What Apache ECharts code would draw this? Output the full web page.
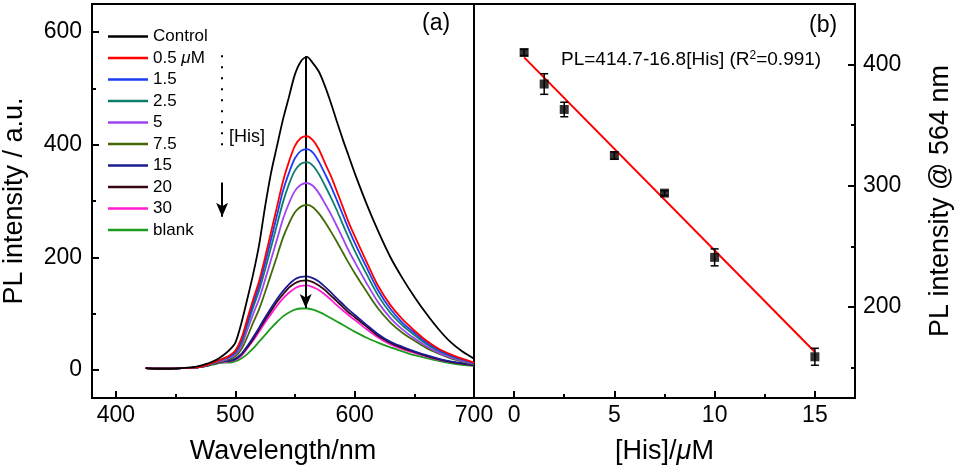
<!DOCTYPE html>
<html>
<head>
<meta charset="utf-8">
<script src="https://cdn.jsdelivr.net/npm/echarts@6/dist/echarts.min.js"></script>
<style>
  html, body { margin: 0; padding: 0; background: #fff; }
  #chart { width: 958px; height: 470px; }
</style>
</head>
<body>
<div id="chart"></div>
<script>
// ---- data ----
var wavelength = [425, 435, 445, 455, 465, 470, 475, 480, 485, 490, 495, 500, 505, 510, 515, 520, 525, 530, 535, 540,
  545, 550, 555, 560, 565, 570, 575, 580, 585, 590, 595, 600, 610, 620, 630, 640, 650, 660, 670, 680, 690, 700];

var legendNames = ['Control', '0.5 μM', '1.5', '2.5', '5', '7.5', '15', '20', '30', 'blank'];
var curveColors = ['#000000', '#ff0000', '#1f3cf5', '#0f7d6c', '#a043f0', '#3f6a05', '#1c1c96', '#360612', '#ff1ed2', '#1c9c1c'];

var plControl = [3, 2, 2, 3, 5, 7, 10, 14, 19, 26, 35, 48, 82, 125, 170, 222, 290, 350, 398, 445,
  485, 525, 548, 556, 545, 530, 505, 475, 442, 410, 380, 350, 295, 245, 200, 163, 130, 100, 73, 50, 33, 20];
var pl05 = [3, 2, 2, 3, 4, 5, 8, 12, 16, 20, 25, 34, 55, 90, 125, 158, 200, 245, 290, 335,
  370, 398, 412, 415, 408, 392, 368, 345, 318, 290, 262, 238, 192, 148, 115, 90, 70, 52, 38, 28, 20, 13];
var pl15 = [3, 2, 2, 3, 4, 5, 8, 12, 16, 20, 24, 32, 51, 84, 118, 150, 190, 232, 275, 318,
  350, 376, 389, 392, 386, 370, 349, 327, 302, 276, 250, 226, 182, 140, 108, 84, 66, 49, 36, 26, 19, 12];
var pl25 = [3, 2, 2, 3, 4, 5, 8, 12, 15, 19, 23, 30, 47, 79, 111, 141, 178, 218, 258, 298,
  330, 354, 366, 369, 363, 348, 328, 307, 284, 259, 235, 212, 170, 131, 101, 79, 62, 46, 34, 25, 18, 12];
var pl5 = [3, 2, 2, 3, 4, 5, 7, 11, 14, 17, 21, 27, 42, 70, 99, 126, 160, 196, 232, 268,
  296, 318, 329, 332, 327, 314, 296, 277, 256, 234, 212, 192, 154, 119, 92, 72, 56, 42, 31, 22, 16, 11];
var pl75 = [3, 2, 2, 3, 4, 5, 7, 10, 13, 16, 19, 24, 36, 58, 84, 108, 138, 170, 202, 235,
  260, 280, 290, 293, 289, 278, 263, 246, 228, 209, 190, 172, 139, 108, 84, 66, 52, 39, 29, 21, 15, 10];
var pl15uM = [3, 2, 2, 3, 4, 5, 7, 10, 13, 15, 16, 20, 28, 42, 58, 75, 93, 110, 126, 140,
  152, 161, 165, 166, 163, 157, 148, 138, 127, 117, 107, 98, 80, 63, 50, 41, 33, 26, 20, 15, 12, 9];
var pl20 = [3, 2, 2, 3, 4, 5, 7, 10, 13, 15, 16, 19, 27, 40, 55, 72, 89, 105, 121, 134,
  146, 154, 158, 159, 156, 150, 142, 132, 122, 112, 102, 94, 77, 60, 48, 39, 32, 25, 19, 14, 11, 8];
var pl30 = [3, 2, 2, 3, 4, 5, 7, 10, 12, 14, 15, 18, 25, 38, 52, 68, 84, 99, 114, 127,
  137, 145, 149, 150, 147, 142, 134, 125, 115, 106, 97, 89, 72, 57, 45, 37, 30, 24, 18, 14, 11, 8];
var plBlank = [3, 2, 2, 3, 4, 5, 6, 9, 11, 13, 13, 15, 20, 28, 38, 50, 62, 74, 85, 95,
  102, 107, 109, 109, 107, 103, 98, 92, 86, 80, 74, 68, 57, 48, 40, 33, 26, 21, 16, 12, 9, 7];

var curves = [plControl, pl05, pl15, pl25, pl5, pl75, pl15uM, pl20, pl30, plBlank];

// panel (b): PL at 564 nm vs [His]
var hisConc = [0.5, 1.5, 2.5, 5, 7.5, 10, 15];
var pl564 = [410, 384, 363, 325, 294, 241, 159];
var pl564Err = [2.5, 8.5, 6, 3, 2, 7, 7];
var fitLine = [[0.5, 406], [15, 163]];

// arrows drawn in panel (a), data units
var bigArrow = [[559, 557], [559, 110]];
var hisDots = [[489, 559], [489, 397]];
var hisArrow = [[489, 333], [489, 272]];

// axis ticks
var xTicksA = [400, 500, 600, 700], xMinorA = [450, 550, 650];
var yTicksA = [0, 200, 400, 600], yMinorA = [100, 300, 500];
var xTicksB = [0, 5, 10, 15], xMinorB = [2.5, 7.5, 12.5];
var yTicksB = [200, 300, 400], yMinorB = [150, 250, 350];

var FONT = '"Liberation Sans", Arial, Helvetica, sans-serif';

function majorAxis(gridIndex, min, max, ticks, position, margin) {
  return {
    type: 'value', gridIndex: gridIndex, min: min, max: max, position: position,
    axisLine: { show: false, onZero: false },
    splitLine: { show: false },
    axisTick: { show: true, inside: true, length: 7, customValues: ticks, lineStyle: { color: '#000', width: 2 } },
    axisLabel: { show: true, customValues: ticks, margin: margin, color: '#000', fontSize: 23, fontFamily: FONT }
  };
}
function minorAxis(gridIndex, min, max, ticks, position) {
  return {
    type: 'value', gridIndex: gridIndex, min: min, max: max, position: position,
    axisLine: { show: false, onZero: false },
    splitLine: { show: false },
    axisTick: { show: true, inside: true, length: 4, customValues: ticks, lineStyle: { color: '#000', width: 2 } },
    axisLabel: { show: false }
  };
}

var chart = echarts.init(document.getElementById('chart'), null, { renderer: 'canvas' });

var xA = majorAxis(0, 380, 700, xTicksA, 'bottom', 6);
xA.name = 'Wavelength/nm';
xA.nameLocation = 'middle';
xA.nameGap = 40;
xA.nameTextStyle = { fontSize: 27, color: '#000', fontFamily: FONT };

var xB = majorAxis(1, -2, 17, xTicksB, 'bottom', 6);
xB.name = '[His]/{i|μ}M';
xB.nameLocation = 'middle';
xB.nameGap = 40;
xB.nameTextStyle = { fontSize: 27, color: '#000', fontFamily: FONT,
  rich: { i: { fontSize: 27, fontStyle: 'italic', fontFamily: FONT, color: '#000' } } };

var yA = majorAxis(0, -50, 650, yTicksA, 'left', 10);
yA.name = 'PL intensity / a.u.';
yA.nameLocation = 'middle';
yA.nameGap = 64;
yA.nameRotate = 90;
yA.nameTextStyle = { fontSize: 27, color: '#000', fontFamily: FONT };

var yB = majorAxis(1, 125, 450, yTicksB, 'right', 8);
yB.name = 'PL intensity @ 564 nm';
yB.nameLocation = 'middle';
yB.nameGap = 72;
yB.nameRotate = 90;
yB.nameTextStyle = { fontSize: 27, color: '#000', fontFamily: FONT };

var series = [];
for (var k = 0; k < curves.length; k++) {
  var pts = [];
  for (var i = 0; i < wavelength.length; i++) pts.push([wavelength[i], curves[k][i]]);
  series.push({
    name: legendNames[k], type: 'line', xAxisIndex: 0, yAxisIndex: 0,
    data: pts, symbol: 'none', smooth: 0.3, z: 10 - k,
    lineStyle: { color: curveColors[k], width: 1.8 },
    itemStyle: { color: curveColors[k] }
  });
}

// arrows in panel (a)
series.push({
  type: 'line', xAxisIndex: 0, yAxisIndex: 0, data: [], silent: true,
  markLine: {
    silent: true, animation: false, label: { show: false },
    symbol: ['none', 'arrow'], symbolSize: [9, 14],
    lineStyle: { color: '#000', width: 2, type: 'solid' },
    data: [
      [{ coord: bigArrow[0] }, { coord: bigArrow[1] }],
      [{ coord: hisArrow[0] }, { coord: hisArrow[1] }]
    ]
  },
  z: 20
});
series.push({
  type: 'line', xAxisIndex: 0, yAxisIndex: 0, data: [], silent: true,
  markLine: {
    silent: true, animation: false, label: { show: false },
    symbol: ['none', 'none'],
    lineStyle: { color: '#000', width: 2, type: [2, 9] },
    data: [[{ coord: hisDots[0] }, { coord: hisDots[1] }]]
  }
});

// panel (b)
series.push({
  type: 'line', xAxisIndex: 2, yAxisIndex: 2, data: fitLine, symbol: 'none',
  lineStyle: { color: '#ff0000', width: 2 }, z: 5
});
var errData = [];
var ptData = [];
for (var j = 0; j < hisConc.length; j++) {
  errData.push([hisConc[j], pl564[j] - pl564Err[j], pl564[j] + pl564Err[j]]);
  ptData.push([hisConc[j], pl564[j]]);
}
series.push({
  type: 'custom', xAxisIndex: 2, yAxisIndex: 2, data: errData, z: 6,
  renderItem: function (params, api) {
    var lo = api.coord([api.value(0), api.value(1)]);
    var hi = api.coord([api.value(0), api.value(2)]);
    var w = 4;
    var st = { stroke: '#000', lineWidth: 1.5 };
    return {
      type: 'group',
      children: [
        { type: 'line', shape: { x1: lo[0], y1: lo[1], x2: hi[0], y2: hi[1] }, style: st },
        { type: 'line', shape: { x1: lo[0] - w, y1: lo[1], x2: lo[0] + w, y2: lo[1] }, style: st },
        { type: 'line', shape: { x1: hi[0] - w, y1: hi[1], x2: hi[0] + w, y2: hi[1] }, style: st }
      ]
    };
  }
});
series.push({
  type: 'scatter', xAxisIndex: 2, yAxisIndex: 2, data: ptData,
  symbol: 'rect', symbolSize: 9, itemStyle: { color: '#000' }, z: 7
});

var option = {
  backgroundColor: '#fff',
  animation: false,
  textStyle: { fontFamily: FONT },
  grid: [
    { left: 92, top: 4, width: 382, height: 396, show: true, borderColor: '#000', borderWidth: 2, backgroundColor: 'transparent' },
    { left: 474, top: 4, width: 381, height: 396, show: true, borderColor: '#000', borderWidth: 2, backgroundColor: 'transparent' }
  ],
  xAxis: [
    xA,
    minorAxis(0, 380, 700, xMinorA, 'bottom'),
    xB,
    minorAxis(1, -2, 17, xMinorB, 'bottom')
  ],
  yAxis: [
    yA,
    minorAxis(0, -50, 650, yMinorA, 'left'),
    yB,
    minorAxis(1, 125, 450, yMinorB, 'right')
  ],
  legend: {
    orient: 'vertical', left: 103, top: 23, itemWidth: 40, itemHeight: 2.5, itemGap: 4.5,
    icon: 'rect',
    data: legendNames, selectedMode: false,
    textStyle: { fontSize: 17, color: '#000', fontFamily: FONT, lineHeight: 17,
      rich: { i: { fontSize: 17, fontStyle: 'italic', fontFamily: FONT, color: '#000', lineHeight: 17 } } },
    formatter: function (name) { return name.replace('μ', '{i|μ}'); }
  },
  graphic: [
    { type: 'text', left: 422, top: 12, style: { text: '(a)', fontSize: 23, fontFamily: FONT, fill: '#000' } },
    { type: 'text', left: 809, top: 14, style: { text: '(b)', fontSize: 23, fontFamily: FONT, fill: '#000' } },
    { type: 'text', left: 229, top: 128, style: { text: '[His]', fontSize: 18, fontFamily: FONT, fill: '#000' } },
    { type: 'text', left: 561, top: 50, style: {
      text: 'PL=414.7-16.8[His] (R{s|2}=0.991)', fontSize: 19, fontFamily: FONT, fill: '#000',
      rich: { s: { fontSize: 12, verticalAlign: 'top', fontFamily: FONT, fill: '#000', padding: [0, 0, 8, 0] } }
    } }
  ],
  series: series
};

chart.setOption(option);
</script>
</body>
</html>
